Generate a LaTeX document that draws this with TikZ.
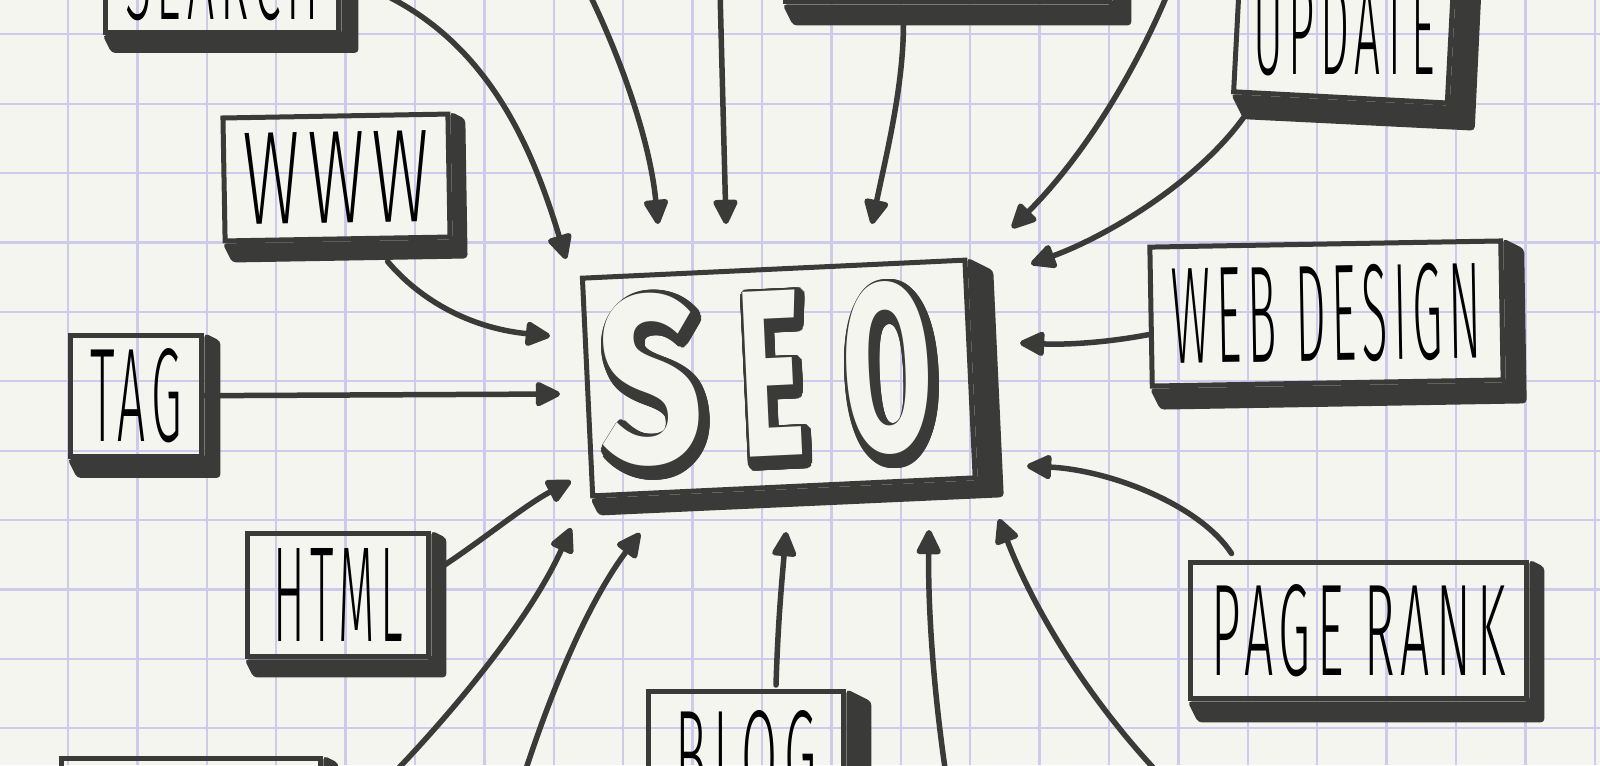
\documentclass[tikz,border=0pt]{standalone}
\usepackage{fontspec}
\usepackage{graphicx}
\usepackage{contour}
\usetikzlibrary{arrows.meta,calc,positioning}

\newfontfamily\handfont{Fira Sans Light}[LetterSpace=12]
\newfontfamily\seofont{Fira Sans}
\definecolor{paper}{RGB}{243,245,238}
\definecolor{ink}{RGB}{58,58,56}
\definecolor{gridline}{RGB}{206,202,236}
\contourlength{3.5pt}
\contournumber{32}

\newcommand{\hand}[3]{\resizebox{#1}{#2}{\handfont #3}}
\newcommand{\seoletters}{S\hspace{.2em}\scalebox{.68}[1]{E}\hspace{.22em}\scalebox{.72}[1]{O}}
\newcommand{\boxshade}[3]{%
  \fill [ink, rounded corners=0.08cm]
    (#1.north east) -- ($(#1.north east)+(#2,{0.5*#2})$)
    -- ($(#1.south east)+(#2,#3)$) -- ($(#1.south west)+({0.5*#3},#3)$)
    -- (#1.south west) -- (#1.south east) -- cycle;}

\begin{document}
\begin{tikzpicture}
    [
      x=0.02cm, y=-0.02cm,
      word/.style={rectangle,draw=ink,line width=0.1cm,inner sep=0pt},
      link/.style={draw=ink,line width=0.11cm,line cap=round,
        -{Triangle[length=0.56cm,width=0.52cm,round]}},
      grid line/.style={draw=gridline,line width=0.045cm},
    ]

    \useasboundingbox (0,0) rectangle (1600,765);
    \clip (0,0) rectangle (1600,765);
    \fill [paper] (0,0) rectangle (1600,765);
    \foreach \k in {-1,...,22}
      \draw [grid line] ({68+69.4*\k},0) -- ({68+69.4*\k},765);
    \foreach \k in {-1,...,10}
      \draw [grid line] (0,{34.3+69.4*\k}) -- (1600,{34.3+69.4*\k});

    \node (seo) [word, minimum width=7.66cm, minimum height=4.36cm, rotate=2.7] at (778.8,378) {};
    \node (seo-label) [inner sep=0pt, rotate=2.7] at (768,381)
      {\resizebox{6.6cm}{3.5cm}{\seofont\bfseries\fontsize{100}{100}\selectfont
        \rlap{\color{ink}\contour{ink}{\seoletters}}%
        \raisebox{2.5pt}{\kern-2.2pt\color{paper}\seoletters}}};

    \node (search) [word, minimum width=4.68cm, minimum height=2.18cm] at (222,-22) {\hand{3.88cm}{1.7cm}{SEARCH}};
    \node (www) [word, minimum width=4.5cm, minimum height=2.46cm, rotate=1] at (336.5,177.5) {\hand{3.72cm}{1.82cm}{WWW}};
    \node (tag) [word, minimum width=2.64cm, minimum height=2.42cm] at (136,396) {\hand{1.84cm}{1.86cm}{TAG}};
    \node (html) [word, minimum width=3.64cm, minimum height=2.48cm] at (338,595) {\hand{2.6cm}{1.86cm}{HTML}};
    \node (lower-left) [word, minimum width=5.2cm, minimum height=2.48cm] at (191,820) {};
    \node (blog) [word, minimum width=3.92cm, minimum height=2.66cm] at (746,758) {\hand{2.82cm}{1.86cm}{BLOG}};
    \node (page-rank) [word, minimum width=6.74cm, minimum height=2.74cm] at (1358.5,630.5) {\hand{5.88cm}{1.82cm}{PAGE RANK}};
    \node (web-design) [word, minimum width=7.02cm, minimum height=2.78cm, rotate=1] at (1326.5,313.5) {\hand{6.18cm}{1.92cm}{WEB DESIGN}};
    \node (update) [word, minimum width=4.28cm, minimum height=2.7cm, rotate=-3] at (1344,30) {\rotatebox{3}{\hand{3.64cm}{1.82cm}{UPDATE}}};
    \node (top-box) [word, minimum width=6.5cm, minimum height=2.48cm] at (947.5,-60) {};

    \boxshade{seo}{26}{17}
    \boxshade{search}{17}{18}
    \boxshade{www}{15}{19}
    \boxshade{tag}{16}{19}
    \boxshade{html}{15}{18}
    \boxshade{lower-left}{15}{19}
    \boxshade{blog}{25}{20}
    \boxshade{page-rank}{15}{21}
    \boxshade{web-design}{21}{21}
    \boxshade{update}{25}{25}
    \boxshade{top-box}{19}{21}

    \coordinate (search-in) at (566,259);
    \coordinate (top-a) at (585,-15);
    \coordinate (top-a-in) at (658,224);
    \coordinate (top-b) at (720,-10);
    \coordinate (top-b-in) at (726,224);
    \coordinate (top-box-in) at (872,224);
    \coordinate (top-c) at (1167,-5);
    \coordinate (top-c-in) at (1012,228);
    \coordinate (update-in) at (1031,264);
    \coordinate (web-in) at (1020,343);
    \coordinate (rank-in) at (1027,466);
    \coordinate (low-d) at (1160,775);
    \coordinate (low-d-in) at (999,519);
    \coordinate (low-c) at (946,775);
    \coordinate (low-c-in) at (929,530);
    \coordinate (blog-in) at (786,532);
    \coordinate (low-b) at (524,775);
    \coordinate (low-b-in) at (640,533);
    \coordinate (low-a) at (392,775);
    \coordinate (low-a-in) at (571,528);
    \coordinate (html-in) at (571,481);
    \coordinate (tag-in) at (560,394);
    \coordinate (www-in) at (550,336);

    \path
    (tag) edge [link] (tag-in)
    (top-b) edge [link] (top-b-in)
    ;

    \draw [link] (search.east) .. controls (480,20) and (530,140) .. (search-in);
    \draw [link] (top-a) .. controls (620,55) and (650,140) .. (top-a-in);
    \draw [link] ($(top-box.south)+(-44,21)$) .. controls (903,90) and (885,160) .. (top-box-in);
    \draw [link] (top-c) .. controls (1140,60) and (1090,150) .. (top-c-in);
    \draw [link] ($(update.south west)+(15,20)$) .. controls (1200,180) and (1110,235) .. (update-in);
    \draw [link] ($(web-design.west)+(0,18)$) .. controls (1110,342) and (1070,345) .. (web-in);
    \draw [link] ($(page-rank.north west)+(44,-6)$) .. controls (1200,505) and (1110,470) .. (rank-in);
    \draw [link] (low-d) .. controls (1080,690) and (1030,600) .. (low-d-in);
    \draw [link] (low-c) .. controls (932,680) and (928,600) .. (low-c-in);
    \draw [link] ($(blog.north)+(30,-4)$) .. controls (778,620) and (782,580) .. (blog-in);
    \draw [link] (low-b) .. controls (555,680) and (590,600) .. (low-b-in);
    \draw [link] (low-a) .. controls (450,715) and (530,620) .. (low-a-in);
    \draw [link] ($(html.east)+(10,-28)$) .. controls (480,542) and (525,505) .. (html-in);
    \draw [link] ($(www.south)+(50,20)$) .. controls (420,300) and (470,328) .. (www-in);

  \end{tikzpicture}
\end{document}
